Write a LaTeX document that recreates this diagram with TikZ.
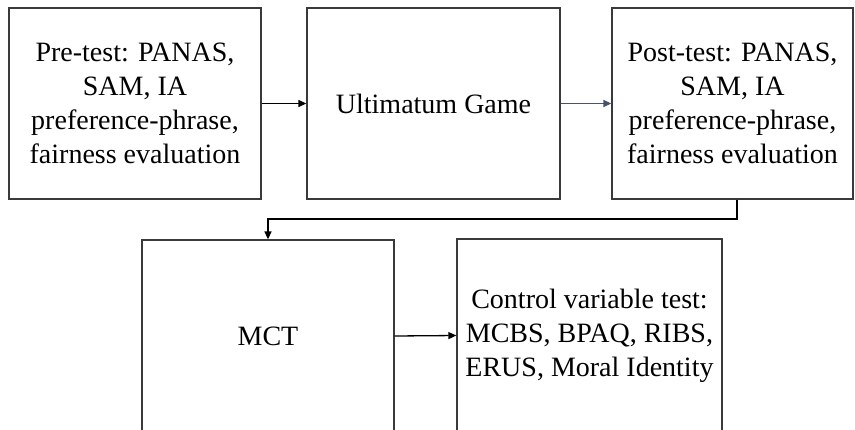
\documentclass[tikz,border=0pt]{standalone}
\usepackage{fontspec}
\setmainfont{Liberation Serif}
\usetikzlibrary{arrows.meta}
\definecolor{boxline}{HTML}{3A3A3A}
\definecolor{slate}{HTML}{44546A}
\tikzset{
  stagebox/.style={draw=boxline, line width=1.3pt, inner sep=0pt, align=center,
    font=\fontsize{28}{34}\selectfont, text=black},
  flow/.style={line width=1.3pt, -{Triangle[length=8pt,width=7pt]}}
}
\begin{document}
\begin{tikzpicture}[x=1pt,y=-1pt]
\useasboundingbox (0,0) rectangle (855,429);
\node[stagebox, minimum width=252pt, minimum height=191pt] (pre) at (135,103.5)
  {Pre-test: PANAS,\\SAM, IA\\preference-phrase,\\fairness evaluation};
\node[stagebox, minimum width=253pt, minimum height=191pt] (ug) at (433.5,103.5)
  {Ultimatum Game};
\node[stagebox, minimum width=241pt, minimum height=191pt] (post) at (732.5,103.5)
  {Post-test: PANAS,\\SAM, IA\\preference-phrase,\\fairness evaluation};
\node[stagebox, minimum width=252pt, minimum height=192pt] (mct) at (268,336)
  {MCT};
\node[stagebox, minimum width=265pt, minimum height=193pt] (ctrl) at (589.5,335.5)
  {Control variable test:\\MCBS, BPAQ, RIBS,\\ERUS, Moral Identity};
\coordinate (turn1) at (737,219);
\coordinate (turn2) at (268,219);
\draw[flow, draw=black] (pre.east) -- (ug.west);
\draw[flow, draw=slate] (ug.east) -- (post.west);
\draw[flow, draw=black] (post.south -| turn1) -- (turn1) -- (turn2) -- (mct.north);
\draw[flow, draw=black] (mct.east) -- (ctrl.west);
\end{tikzpicture}
\end{document}
